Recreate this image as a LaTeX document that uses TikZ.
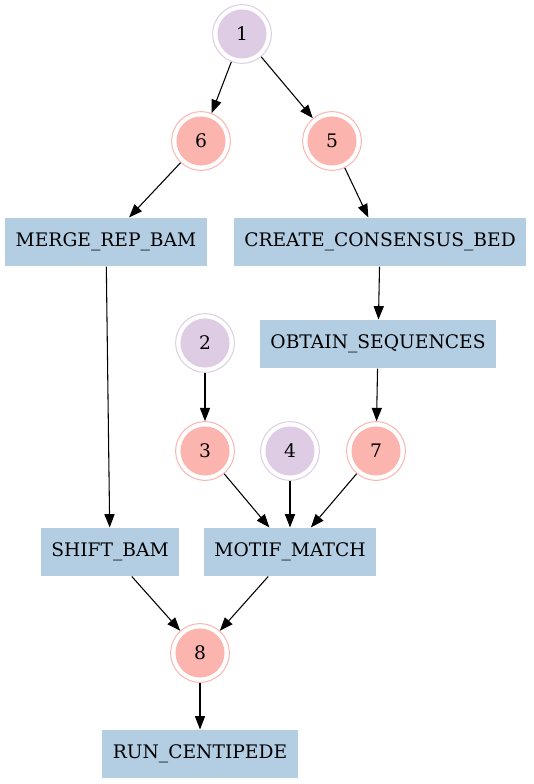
\documentclass[tikz,border=0pt]{standalone}
\usepackage{fontspec}
\setmainfont{DejaVu Serif}
\usetikzlibrary{arrows.meta}
\definecolor{inputcol}{HTML}{DECBE4}
\definecolor{outputcol}{HTML}{FBB4AE}
\definecolor{taskcol}{HTML}{B3CDE3}

\begin{document}
\begin{tikzpicture}[x=0.75pt, y=-0.75pt, font=\fontsize{14}{16}\selectfont,
		>={Triangle[length=10pt,width=7.6pt]}, line width=0.8pt,
		inputnode/.style={circle, draw=inputcol, line width=0.75pt, minimum size=44pt, inner sep=0pt,
			path picture={\fill[inputcol] (path picture bounding box.center) circle (18.4pt);}},
		outputnode/.style={circle, draw=outputcol, line width=0.75pt, minimum size=44pt, inner sep=0pt,
			path picture={\fill[outputcol] (path picture bounding box.center) circle (18.4pt);}},
		task/.style={rectangle, fill=taskcol, minimum height=36pt, inner xsep=8pt}]
		\useasboundingbox (0,0) rectangle (533,784);
		\node (n1)[inputnode] at (242,34) {1};
		\node (n6)[outputnode] at (201,141) {6};
		\node (n5)[outputnode] at (332,141) {5};
		\node (merge)[task] at (106,242) {MERGE\_REP\_BAM};
		\node (consensus)[task] at (380,242) {CREATE\_CONSENSUS\_BED};
		\node (n2)[inputnode] at (205,343) {2};
		\node (sequences)[task] at (378,344) {OBTAIN\_SEQUENCES};
		\node (n3)[outputnode] at (205,451) {3};
		\node (n4)[inputnode] at (290,451) {4};
		\node (n7)[outputnode] at (376,451) {7};
		\node (shift)[task] at (110,552) {SHIFT\_BAM};
		\node (motif)[task] at (290,552) {MOTIF\_MATCH};
		\node (n8)[outputnode] at (200,653) {8};
		\node (centipede)[task] at (200,754) {RUN\_CENTIPEDE};

		\draw [->](n1) edge (n6);
		\draw [->](n1) edge (n5);
		\draw [->](n6) edge (merge);
		\draw [->](n5) edge (consensus);
		\draw [->](merge) edge (shift);
		\draw [->](consensus) edge (sequences);
		\draw [->](sequences) edge (n7);
		\draw [->](n2) edge (n3);
		\draw [->](n3) edge (motif);
		\draw [->](n4) edge (motif);
		\draw [->](n7) edge (motif);
		\draw [->](shift) edge (n8);
		\draw [->](motif) edge (n8);
		\draw [->](n8) edge (centipede);
	\end{tikzpicture}
\end{document}
